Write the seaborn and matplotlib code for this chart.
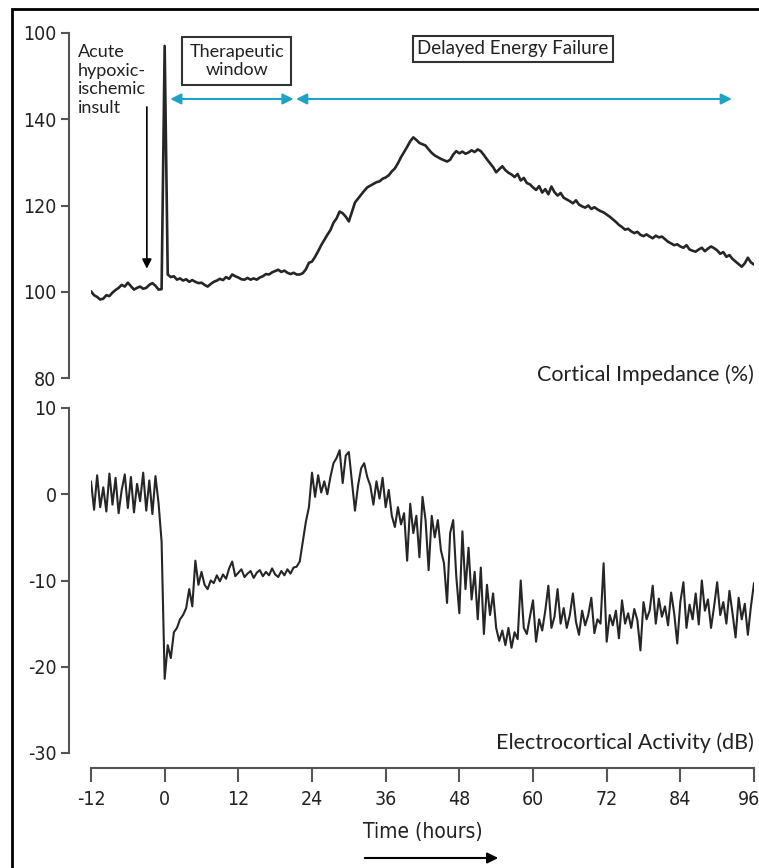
import numpy as np
import pandas as pd
import matplotlib
matplotlib.use("Agg")
import matplotlib.pyplot as plt
from matplotlib.patches import Rectangle, FancyArrowPatch
from matplotlib.transforms import ScaledTranslation
import seaborn as sns

# sampling grid of the traces (hours, every half hour)
hours = np.arange(-12, 96.5, 0.5)

# cortical impedance (%), one row = 6 hours
impedance = [
    100.1, 99.2, 98.8, 98.2, 98.4, 99.2, 99.0, 99.8, 100.4, 100.9, 101.6, 101.2,
    102.1, 101.3, 100.5, 100.9, 101.2, 100.7, 100.9, 101.6, 102.0, 101.4, 100.5, 100.6,
    157.0, 104.0, 103.4, 103.6, 102.8, 103.1, 102.6, 102.9, 102.3, 102.7, 102.3, 102.0,
    102.1, 101.6, 101.2, 101.8, 102.3, 102.6, 103.0, 102.7, 103.4, 103.0, 104.0, 103.6,
    103.3, 102.9, 102.8, 103.2, 102.8, 103.1, 102.8, 103.3, 103.6, 104.1, 104.0, 104.5,
    104.8, 105.1, 104.6, 104.9, 104.4, 104.1, 104.4, 104.0, 104.0, 104.3, 105.2, 106.7,
    107.0, 108.1, 109.4, 110.8, 112.0, 113.2, 114.3, 116.0, 117.0, 118.6, 118.2, 117.4,
    116.3, 118.5, 120.7, 121.6, 122.5, 123.4, 124.2, 124.6, 125.0, 125.4, 125.6, 126.2,
    126.5, 127.0, 127.9, 128.6, 129.8, 131.2, 132.4, 133.6, 134.9, 135.8, 135.2, 134.5,
    134.2, 133.9, 133.0, 132.2, 131.6, 131.2, 130.8, 130.5, 130.2, 130.6, 131.8, 132.6,
    132.1, 132.5, 132.0, 132.3, 132.8, 132.4, 133.0, 132.6, 131.7, 130.7, 129.8, 128.9,
    127.7, 128.4, 129.1, 128.2, 127.6, 127.2, 126.6, 127.3, 125.8, 126.4, 125.2, 124.9,
    124.2, 123.6, 124.5, 123.0, 123.8, 122.6, 124.4, 123.1, 122.3, 122.9, 121.8, 121.4,
    121.0, 120.5, 121.2, 120.2, 119.8, 119.5, 120.0, 119.2, 119.6, 119.1, 118.7, 118.4,
    117.9, 117.4, 116.8, 116.2, 115.5, 115.0, 114.4, 114.6, 114.0, 113.6, 113.9, 113.2,
    112.9, 113.3, 112.8, 112.4, 113.0, 112.6, 112.8, 112.2, 111.6, 111.2, 110.8, 111.0,
    110.5, 110.2, 110.8, 109.8, 109.5, 109.3, 109.8, 110.2, 109.4, 110.0, 110.5, 110.1,
    109.6, 108.8, 109.2, 108.1, 108.5, 107.6, 107.0, 106.4, 105.8, 106.6, 107.9, 106.8,
    106.3,
]

# electrocortical activity (dB)
eeg = [
    1.5, -1.8, 2.2, -1.5, 0.8, -2.0, 2.4, -1.2, 1.9, -2.2, 0.5, 2.3,
    -1.6, 2.0, -2.1, 1.2, -0.8, 2.5, -1.9, 1.6, -2.3, 2.1, -1.0, -5.5,
    -21.4, -17.5, -19.0, -16.0, -15.5, -14.5, -14.0, -13.2, -11.0, -13.0, -7.7, -10.5,
    -9.0, -10.5, -11.0, -10.0, -10.3, -9.4, -10.1, -9.3, -9.8, -8.6, -7.8, -9.5,
    -9.1, -8.7, -9.6, -9.2, -8.9, -9.7, -9.1, -8.8, -9.5, -9.0, -9.4, -8.6,
    -9.3, -9.6, -8.9, -9.4, -8.7, -9.2, -8.5, -8.4, -7.8, -5.5, -3.2, -1.5,
    2.5, -0.3, 2.2, 0.2, 1.5, 0.0, 2.0, 3.6, 4.2, 5.1, 1.3, 4.5,
    4.9, 1.5, -1.9, 1.0, 3.0, 3.6, 2.0, 1.0, -1.2, 1.5, -0.5, 1.9,
    -1.5, 0.5, -2.5, -3.8, -1.5, -3.5, -2.2, -7.7, -1.1, -4.5, -2.5, -7.3,
    -0.3, -3.0, -8.8, -2.5, -5.0, -3.0, -6.5, -8.0, -12.6, -4.5, -3.0, -9.5,
    -13.8, -4.3, -11.0, -6.2, -12.2, -9.0, -14.5, -8.5, -16.2, -10.5, -14.0, -11.5,
    -15.5, -17.0, -15.8, -17.5, -15.5, -17.8, -16.0, -16.8, -10.0, -15.5, -16.2, -14.2,
    -12.3, -17.1, -14.5, -15.8, -13.5, -10.6, -15.5, -14.2, -11.0, -15.0, -13.2, -15.5,
    -14.0, -11.5, -14.8, -16.3, -13.5, -15.2, -14.0, -12.0, -16.1, -14.5, -15.0, -8.0,
    -17.1, -14.0, -15.2, -13.5, -16.7, -12.3, -15.0, -13.8, -15.5, -13.3, -14.6, -18.1,
    -12.5, -14.5, -13.5, -10.6, -15.0, -12.1, -14.2, -13.0, -15.2, -11.4, -13.8, -17.3,
    -12.5, -10.2, -15.5, -12.8, -14.5, -11.5, -15.1, -10.0, -13.5, -12.2, -15.5, -13.0,
    -10.2, -14.0, -12.5, -15.0, -11.2, -13.8, -16.6, -12.0, -14.5, -12.7, -16.3, -13.0,
    -10.3,
]

x_ticks = [-12, 0, 12, 24, 36, 48, 60, 72, 84, 96]
top_ticks = [80, 100, 120, 140, 160]
top_tick_labels = ["80", "100", "120", "140", "100"]
bot_ticks = [-30, -20, -10, 0, 10]
bot_tick_labels = ["-30", "-20", "-10", "0", "10"]

# phases (hours) for the annotation arrows
insult_time = -2.9
window_start, window_end, failure_end = 0.9, 21.0, 92.4

df = pd.DataFrame({"hours": hours, "impedance": impedance, "eeg": eeg})

sns.set_style("ticks")
tick_font = ["DejaVu Sans", "Roboto"]
note_font = ["Lato", "DejaVu Sans"]
spine_col = "#555555"
line_col = "#262626"
txt_col = "#222222"
cyan = "#1fa3c4"

fig = plt.figure(figsize=(7.59, 8.68), dpi=100)
W, H = 759, 868
ax_top = fig.add_axes([91 / W, 1 - 378 / H, 663 / W, 345 / H])
ax_bot = fig.add_axes([91 / W, 1 - 753 / H, 663 / W, 345 / H])

sns.lineplot(data=df, x="hours", y="impedance", ax=ax_top, color=line_col,
             lw=1.9, estimator=None)
sns.lineplot(data=df, x="hours", y="eeg", ax=ax_bot, color=line_col,
             lw=1.5, estimator=None)


def tick_text(labels):
    for lab in labels:
        lab.set_family(tick_font)
        lab.set_stretch("condensed")
        lab.set_fontsize(14)
        lab.set_color(txt_col)


for ax in (ax_top, ax_bot):
    ax.set_xlim(-12, 96)
    ax.set_xlabel("")
    ax.set_ylabel("")
    for s in ("top", "right"):
        ax.spines[s].set_visible(False)
    ax.spines["left"].set_position(("outward", 15.8))
    ax.spines["left"].set_color(spine_col)
    ax.spines["left"].set_linewidth(1.5)
    ax.tick_params(axis="y", length=6, width=1.5, color=spine_col, pad=3)

ax_top.set_ylim(80, 160)
ax_top.set_yticks(top_ticks)
ax_top.set_yticklabels(top_tick_labels)
ax_top.spines["bottom"].set_visible(False)
ax_top.set_xticks([])
tick_text(ax_top.get_yticklabels())

ax_bot.set_ylim(-30, 10)
ax_bot.set_yticks(bot_ticks)
ax_bot.set_yticklabels(bot_tick_labels)
ax_bot.spines["bottom"].set_position(("outward", 10.8))
ax_bot.spines["bottom"].set_color(spine_col)
ax_bot.spines["bottom"].set_linewidth(1.5)
ax_bot.set_xticks(x_ticks)
ax_bot.set_xticklabels([str(t) for t in x_ticks])
ax_bot.tick_params(axis="x", length=10, width=1.5, color=spine_col, pad=6)
tick_text(ax_bot.get_yticklabels())
tick_text(ax_bot.get_xticklabels())
# last label sits against the figure edge, nudge it in a little
last = ax_bot.get_xticklabels()[-1]
last.set_transform(last.get_transform() + ScaledTranslation(-5 / 100, 0, fig.dpi_scale_trans))

# series names
ax_top.text(1.0, 0.01, "Cortical Impedance (%)", transform=ax_top.transAxes,
            ha="right", va="center", fontsize=15.5, family=note_font, color=txt_col)
ax_bot.text(1.0, 0.029, "Electrocortical Activity (dB)", transform=ax_bot.transAxes,
            ha="right", va="center", fontsize=15.5, family=note_font, color=txt_col)

# annotations
ax_top.text(-0.0196, 0.968, "Acute\nhypoxic-\nischemic\ninsult", transform=ax_top.transAxes,
            ha="left", va="top", fontsize=13, family=note_font, color=txt_col,
            linespacing=1.2)
ax_top.annotate("", xy=(insult_time, 104.7), xytext=(insult_time, 143.5),
                arrowprops=dict(arrowstyle="-|>", color="black", lw=1.2, mutation_scale=14))
ax_top.text(0.22, 0.919, "Therapeutic\nwindow", transform=ax_top.transAxes,
            ha="center", va="center", fontsize=13, family=note_font, color=txt_col,
            linespacing=1.1,
            bbox=dict(boxstyle="square,pad=0.4", fc="white", ec="#333333", lw=1.5))
ax_top.text(0.6365, 0.954, "Delayed Energy Failure", transform=ax_top.transAxes,
            ha="center", va="center", fontsize=13.5, family=note_font, color=txt_col,
            bbox=dict(boxstyle="square,pad=0.25", fc="white", ec="#333333", lw=1.5))
arrow_y = 144.7
ax_top.annotate("", xy=(window_end, arrow_y), xytext=(window_start, arrow_y),
                arrowprops=dict(arrowstyle="<|-|>", color=cyan, lw=1.5,
                                mutation_scale=16, shrinkA=0, shrinkB=0))
ax_top.annotate("", xy=(failure_end, arrow_y), xytext=(window_end + 0.4, arrow_y),
                arrowprops=dict(arrowstyle="<|-|>", color=cyan, lw=1.5,
                                mutation_scale=16, shrinkA=0, shrinkB=0))

# x axis title with arrow underneath
fig.text(423 / W, 1 - 832 / H, "Time (hours)", ha="center", va="center",
         fontsize=15, family=tick_font, stretch="condensed", color=txt_col)
fig.add_artist(FancyArrowPatch(
    (362 / W, 1 - 858 / H), (501 / W, 1 - 858 / H), transform=fig.transFigure,
    arrowstyle="-|>", mutation_scale=16, lw=1.5, color="black"))

# frame around the figure
fig.add_artist(Rectangle((12 / W, -0.05), 1.1, 1 - 9 / H + 0.05,
                         transform=fig.transFigure, fill=False, ec="black", lw=2))

fig.savefig("out.png", dpi=100)
